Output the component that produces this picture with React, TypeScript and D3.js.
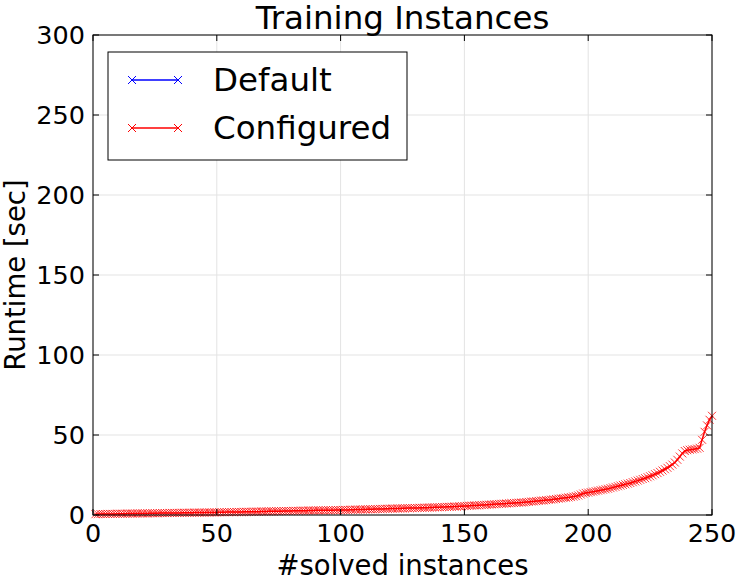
import React from "react";
import * as d3 from "d3";

const title = "Training Instances";
const xLabel = "#solved instances";
const yLabel = "Runtime [sec]";
const seriesNames = ["Default", "Configured"];
const xTicks = [0, 50, 100, 150, 200, 250];
const yTicks = [0, 50, 100, 150, 200, 250, 300];

// Default series is fully hidden beneath the Configured series in the reference
const defaultValues: number[] = [];

const configuredValues: number[] = [
  0.5, 0.5, 0.6, 0.6, 0.6, 0.7, 0.7, 0.7, 0.7, 0.8,
  0.8, 0.8, 0.8, 0.9, 0.9, 0.9, 0.9, 1.0, 1.0, 1.0,
  1.0, 1.0, 1.1, 1.1, 1.1, 1.1, 1.2, 1.2, 1.2, 1.2,
  1.3, 1.3, 1.3, 1.3, 1.3, 1.4, 1.4, 1.4, 1.4, 1.4,
  1.5, 1.5, 1.5, 1.5, 1.5, 1.6, 1.6, 1.6, 1.6, 1.6,
  1.7, 1.7, 1.7, 1.8, 1.8, 1.8, 1.8, 1.9, 1.9, 1.9,
  2.0, 2.0, 2.0, 2.0, 2.1, 2.1, 2.1, 2.2, 2.2, 2.2,
  2.3, 2.3, 2.3, 2.4, 2.4, 2.4, 2.5, 2.5, 2.5, 2.5,
  2.6, 2.6, 2.6, 2.7, 2.7, 2.7, 2.8, 2.8, 2.8, 2.9,
  2.9, 2.9, 2.9, 3.0, 3.0, 3.0, 3.0, 3.1, 3.1, 3.1,
  3.2, 3.2, 3.2, 3.3, 3.3, 3.4, 3.4, 3.4, 3.5, 3.5,
  3.6, 3.6, 3.6, 3.7, 3.7, 3.8, 3.8, 3.9, 3.9, 4.0,
  4.0, 4.0, 4.1, 4.1, 4.2, 4.2, 4.3, 4.3, 4.3, 4.4,
  4.4, 4.5, 4.5, 4.6, 4.6, 4.7, 4.7, 4.8, 4.8, 4.9,
  5.0, 5.0, 5.1, 5.1, 5.2, 5.3, 5.3, 5.4, 5.5, 5.6,
  5.7, 5.8, 5.9, 6.0, 6.0, 6.1, 6.2, 6.3, 6.4, 6.5,
  6.6, 6.7, 6.8, 6.9, 7.0, 7.1, 7.2, 7.3, 7.4, 7.5,
  7.6, 7.7, 7.8, 7.9, 8.1, 8.2, 8.4, 8.5, 8.7, 8.8,
  9.0, 9.1, 9.3, 9.4, 9.6, 9.8, 10.0, 10.2, 10.4, 10.6,
  10.8, 11.0, 11.2, 11.5, 11.8, 12.2, 12.8, 13.4, 13.8, 14.0,
  14.3, 14.6, 14.9, 15.2, 15.5, 15.8, 16.1, 16.4, 16.8, 17.2,
  17.6, 18.0, 18.4, 18.8, 19.2, 19.6, 20.0, 20.5, 21.0, 21.5,
  22.0, 22.5, 23.0, 23.6, 24.2, 24.8, 25.5, 26.2, 27.0, 27.8,
  28.6, 29.5, 30.5, 31.5, 32.8, 34.5, 36.5, 38.5, 40.0, 40.5,
  40.8, 41.0, 41.2, 41.5, 42.0, 47.0, 52.0, 56.0, 59.5, 62.0,
];

const W = 738;
const H = 585;
const L = 93, R = 712, T = 35, B = 515;
const FONT = "DejaVu Sans";

function Series({ values, color, x, y }: { values: number[]; color: string; x: any; y: any }) {
  const pts = values.map((v, i) => [i + 1, v] as [number, number]);
  const line = d3.line<[number, number]>().x((d) => x(d[0])).y((d) => y(d[1]));
  const s = 4;
  return (
    <g>
      <path d={line(pts) || ""} fill="none" stroke={color} strokeWidth={1.5} />
      {pts.map((p, i) => {
        const cx = x(p[0]);
        const cy = y(p[1]);
        return (
          <path
            key={i}
            d={`M${cx - s},${cy - s}L${cx + s},${cy + s}M${cx - s},${cy + s}L${cx + s},${cy - s}`}
            stroke={color}
            strokeWidth={1}
            strokeOpacity={0.8}
            fill="none"
          />
        );
      })}
    </g>
  );
}

export default function App() {
  const x = d3.scaleLinear().domain([0, 250]).range([L, R]);
  const y = d3.scaleLinear().domain([0, 300]).range([B, T]);
  const colors = ["#0000ff", "#ff0000"];
  const tickLen = 6;
  const lg = { x: 108, y: 52, w: 299, h: 108 };
  return (
    <svg width={W} height={H} style={{ position: "absolute", left: 0, top: 0, background: "#fff" }}>
      <rect x={0} y={0} width={W} height={H} fill="#fff" />
      {/* grid */}
      {xTicks.map((t) => (
        <line key={"gx" + t} x1={x(t)} x2={x(t)} y1={T} y2={B} stroke="#e3e3e3" strokeWidth={1} />
      ))}
      {yTicks.map((t) => (
        <line key={"gy" + t} x1={L} x2={R} y1={y(t)} y2={y(t)} stroke="#e3e3e3" strokeWidth={1} />
      ))}
      {/* series */}
      <Series values={defaultValues} color={colors[0]} x={x} y={y} />
      <Series values={configuredValues} color={colors[1]} x={x} y={y} />
      {/* ticks */}
      {xTicks.map((t) => (
        <g key={"tx" + t}>
          <line x1={x(t)} x2={x(t)} y1={B} y2={B - tickLen} stroke="#000" strokeWidth={1} />
          <line x1={x(t)} x2={x(t)} y1={T} y2={T + tickLen} stroke="#000" strokeWidth={1} />
          <text x={x(t)} y={542} textAnchor="middle" fontFamily={FONT} fontSize={25.5} fill="#000">
            {t}
          </text>
        </g>
      ))}
      {yTicks.map((t) => (
        <g key={"ty" + t}>
          <line x1={L} x2={L + tickLen} y1={y(t)} y2={y(t)} stroke="#000" strokeWidth={1} />
          <line x1={R} x2={R - tickLen} y1={y(t)} y2={y(t)} stroke="#000" strokeWidth={1} />
          <text x={85} y={y(t) + 9} textAnchor="end" fontFamily={FONT} fontSize={25.5} fill="#000">
            {t}
          </text>
        </g>
      ))}
      {/* frame */}
      <rect x={L} y={T} width={R - L} height={B - T} fill="none" stroke="#000" strokeWidth={1} />
      {/* title and labels */}
      <text x={(L + R) / 2} y={29} textAnchor="middle" fontFamily={FONT} fontSize={32.5} fill="#000">
        {title}
      </text>
      <text x={(L + R) / 2} y={575} textAnchor="middle" fontFamily={FONT} fontSize={27.5} fill="#000">
        {xLabel}
      </text>
      <text
        transform={`translate(25,${(T + B) / 2}) rotate(-90)`}
        textAnchor="middle"
        fontFamily={FONT}
        fontSize={27.5}
        fill="#000"
      >
        {yLabel}
      </text>
      {/* legend */}
      <rect x={lg.x} y={lg.y} width={lg.w} height={lg.h} fill="#fff" stroke="#000" strokeWidth={1} />
      {seriesNames.map((name, i) => {
        const ly = 80 + i * 48;
        const x1 = 132, x2 = 178, s = 4;
        return (
          <g key={name}>
            <line x1={x1} x2={x2} y1={ly} y2={ly} stroke={colors[i]} strokeWidth={1.5} />
            {[x1, x2].map((cx) => (
              <path
                key={cx}
                d={`M${cx - s},${ly - s}L${cx + s},${ly + s}M${cx - s},${ly + s}L${cx + s},${ly - s}`}
                stroke={colors[i]}
                strokeWidth={1}
                fill="none"
              />
            ))}
            <text x={213} y={ly + 11} fontFamily={FONT} fontSize={32.5} fill="#000">
              {name}
            </text>
          </g>
        );
      })}
    </svg>
  );
}
